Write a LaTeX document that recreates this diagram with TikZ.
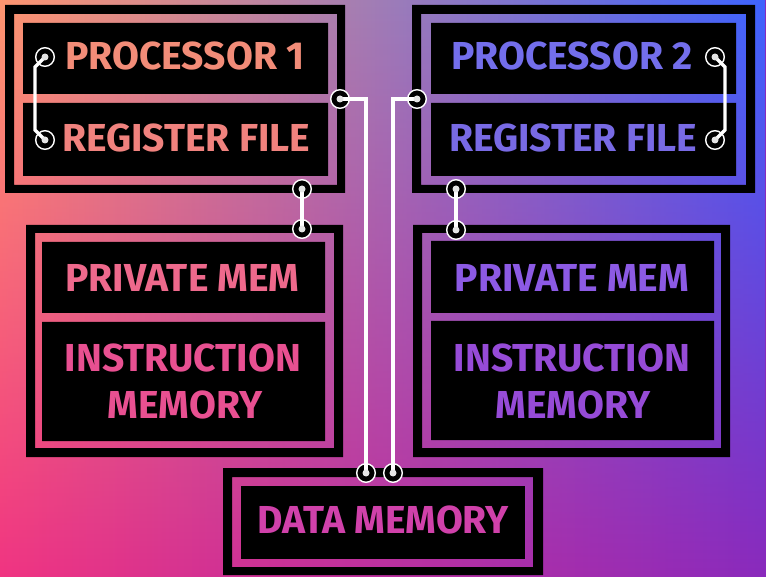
\documentclass[tikz,border=0pt]{standalone}
\usepackage{fontspec}
\setmainfont{Fira Sans}
\usetikzlibrary{calc,fadings}

\definecolor{bgTL}{RGB}{255,150,112}
\definecolor{bgTM}{RGB}{196,136,178}
\definecolor{bgTR}{RGB}{62,100,255}
\definecolor{bgBL}{RGB}{240,52,130}
\definecolor{bgBM}{RGB}{198,56,164}
\definecolor{bgBR}{RGB}{138,42,188}

\definecolor{procA}{RGB}{242,140,120}
\definecolor{regA}{RGB}{240,130,126}
\definecolor{procB}{RGB}{115,110,235}
\definecolor{regB}{RGB}{120,106,228}
\definecolor{privA}{RGB}{238,105,140}
\definecolor{instrA}{RGB}{232,80,145}
\definecolor{privB}{RGB}{140,90,228}
\definecolor{instrB}{RGB}{150,75,215}
\definecolor{dataC}{RGB}{208,65,170}

\tikzset{
  frame/.style={fill=black, even odd rule},
  panel/.style={fill=black},
  wire/.style={white, line width=3.3pt},
  lbl/.style={font=\bfseries\fontsize{39}{39}\selectfont, anchor=base, inner sep=0pt},
}

\begin{document}
\begin{tikzpicture}[x=1pt, y=-1pt]
\useasboundingbox (0,0) rectangle (766,577);
% background: lower colours, then upper colours faded out downwards
\shade[left color=bgBL, middle color=bgBM, right color=bgBR, shading angle=90] (0,0) rectangle (766,577);
\shade[left color=bgTL, middle color=bgTM, right color=bgTR, shading angle=90, path fading=south] (0,0) rectangle (766,577);

% outer frames
\fill[frame] (5,5) rectangle (345,193) (14,14) rectangle (337,185);
\fill[frame] (412,5) rectangle (755,193) (421,14) rectangle (746,185);
\fill[frame] (26,225) rectangle (343,457) (35,233) rectangle (334,448);
\fill[frame] (413,225) rectangle (730,457) (422,233) rectangle (721,448);
\fill[frame] (223,468) rectangle (543,575) (232,477) rectangle (533,567);

% panels
\fill[panel] (23,23) rectangle (328,94) (23,103) rectangle (328,176);
\fill[panel] (431,23) rectangle (736,94) (431,103) rectangle (736,176);
\fill[panel] (42,242) rectangle (325,313) (42,322) rectangle (325,441);
\fill[panel] (431,241) rectangle (714,313) (431,321) rectangle (714,440);
\fill[panel] (241,486) rectangle (525,559);

\node[lbl, text=procA] (proc1) at (185,70) {PROCESSOR 1};
\node[lbl, text=regA] (reg1) at (186,152) {REGISTER FILE};
\node[lbl, text=procB] (proc2) at (572,70) {PROCESSOR 2};
\node[lbl, text=regB] (reg2) at (573,152) {REGISTER FILE};
\node[lbl, text=privA] (priv1) at (182.5,292) {PRIVATE MEM};
\node[lbl, text=instrA] (instr1) at (183,372) {INSTRUCTION};
\node[lbl, text=instrA] (imem1) at (185,418) {MEMORY};
\node[lbl, text=privB] (priv2) at (572,292) {PRIVATE MEM};
\node[lbl, text=instrB] (instr2) at (572,372) {INSTRUCTION};
\node[lbl, text=instrB] (imem2) at (573,418) {MEMORY};
\node[lbl, text=dataC] (dmem) at (383,533) {DATA MEMORY};

\coordinate (p1in) at (45,57);
\coordinate (p1reg) at (45,140);
\coordinate (p1out) at (340,99);
\coordinate (p1dn) at (302,189);
\coordinate (m1up) at (302,229);
\coordinate (p2in) at (715,57);
\coordinate (p2reg) at (715,140);
\coordinate (p2out) at (417,99);
\coordinate (p2dn) at (456,189);
\coordinate (m2up) at (456,230);
\coordinate (d1) at (366,473);
\coordinate (d2) at (393,473);

\foreach \p in {p1in,p1reg,p1out,p1dn,m1up,p2in,p2reg,p2out,p2dn,m2up,d1,d2}
  \filldraw[fill=black, draw=white, line width=1.4pt] (\p) circle (9.3pt);

\draw[wire] (p1in) -- ++(-10,10) -- ($(p1reg)+(-10,-10)$) -- (p1reg);
\draw[wire] (p2in) -- ++(10,10) -- ($(p2reg)+(10,-10)$) -- (p2reg);
\draw[wire] (p1out) -| (d1);
\draw[wire] (p2out) -| (d2);
\draw[wire] (p1dn) -- (m1up);
\draw[wire] (p2dn) -- (m2up);

\foreach \p in {p1in,p1reg,p1out,p1dn,m1up,p2in,p2reg,p2out,p2dn,m2up,d1,d2}
  \fill[black!10] (\p) circle (3.5pt);
\end{tikzpicture}
\end{document}
